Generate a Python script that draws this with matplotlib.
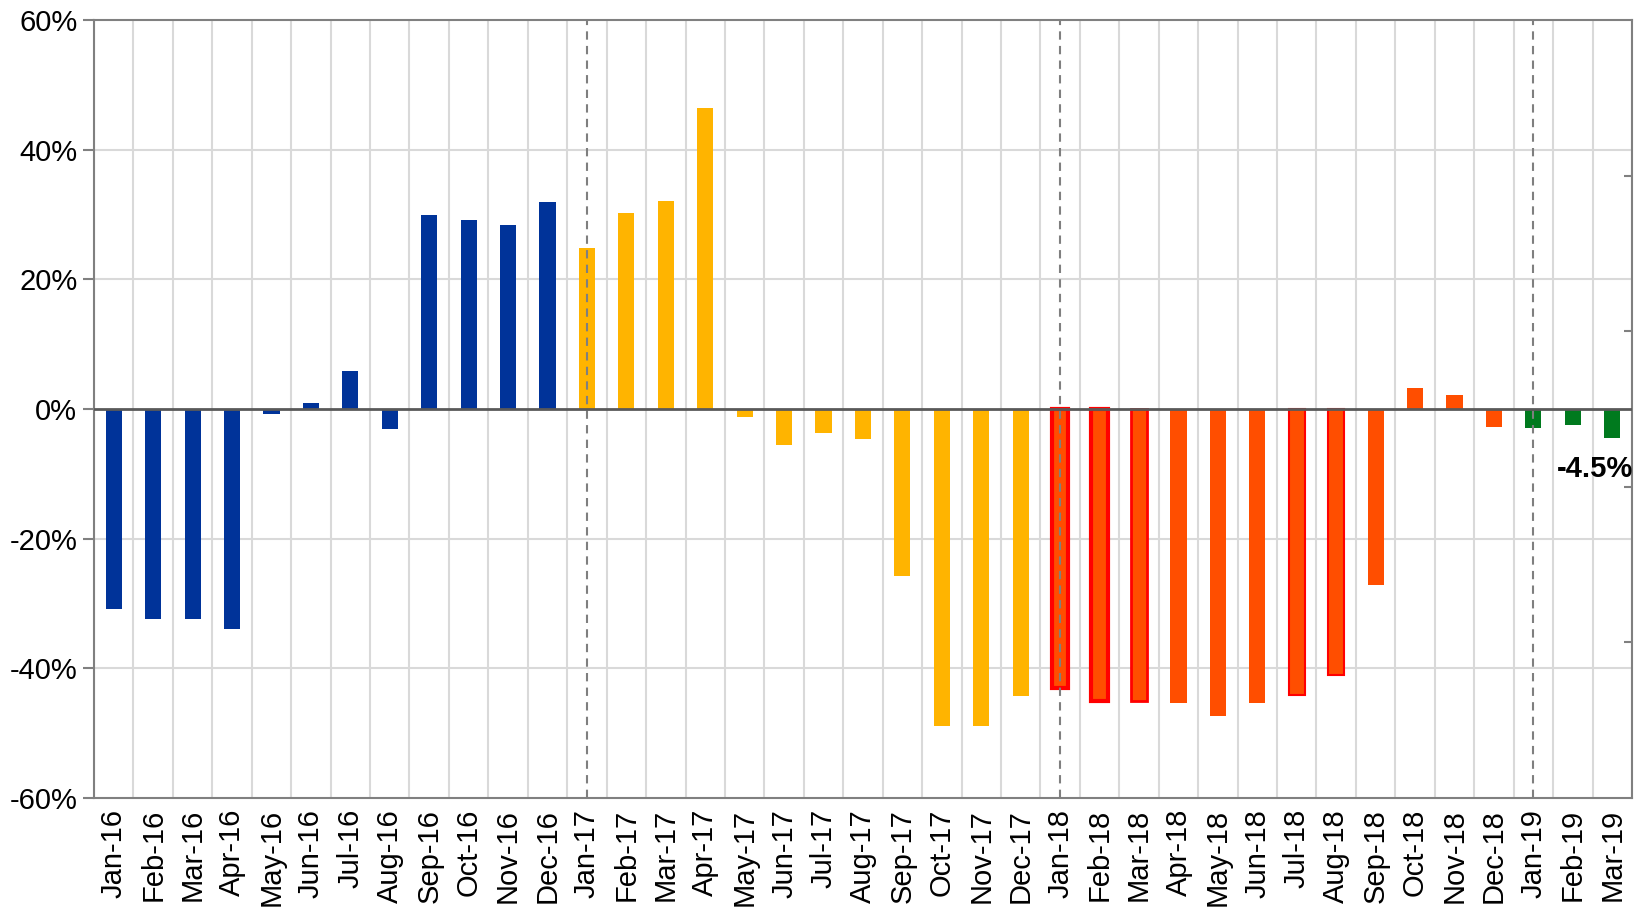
import numpy as np
import matplotlib.pyplot as plt
from matplotlib.ticker import FixedLocator, FuncFormatter

plt.rcParams['font.family'] = ['Liberation Sans', 'DejaVu Sans']

# 月份标签
months = ['Jan', 'Feb', 'Mar', 'Apr', 'May', 'Jun', 'Jul', 'Aug', 'Sep', 'Oct', 'Nov', 'Dec']
labels = [f'{m}-{y}' for y in ['16', '17', '18'] for m in months] + ['Jan-19', 'Feb-19', 'Mar-19']

# 各月数值 (%)
values_2016 = [-30.8, -32.4, -32.4, -34.0, -0.8, 1.0, 5.8, -3.1, 30.0, 29.2, 28.4, 31.9]
values_2017 = [24.8, 30.2, 32.1, 46.5, -1.3, -5.6, -3.7, -4.7, -25.8, -48.9, -48.9, -44.3]
values_2018 = [-43.0, -45.1, -45.1, -45.4, -47.4, -45.4, -44.1, -41.1, -27.2, 3.3, 2.2, -2.7]
values_2019 = [-3.0, -2.5, -4.5]

# 带红色边框的月份及边框宽度
edge_months = {'Jan-18': 3.0, 'Feb-18': 3.0, 'Mar-18': 2.0, 'Jul-18': 1.5, 'Aug-18': 1.5}
year_marks = ['Jan-17', 'Jan-18', 'Jan-19']

colors_year = {'16': '#003399', '17': '#FFB400', '18': '#FF4E00', '19': '#007A1E'}

values = values_2016 + values_2017 + values_2018 + values_2019
x = np.arange(len(labels))
bar_colors = [colors_year[l[-2:]] for l in labels]

fig = plt.figure(figsize=(16.38, 9.19), dpi=100)
ax = fig.add_axes([0.0574, 0.1317, 0.9389, 0.8465])

# 网格线
for xb in np.arange(len(labels) + 1) - 0.5:
    ax.axvline(xb, color='#D9D9D9', lw=1.5, zorder=0)
for yv in [-40, -20, 20, 40]:
    ax.axhline(yv, color='#D9D9D9', lw=1.5, zorder=0)

# 柱子
for xi, v, c, l in zip(x, values, bar_colors, labels):
    if l in edge_months:
        ax.bar(xi, v, width=0.41, color=c, edgecolor='#FF0000',
               linewidth=edge_months[l], zorder=2)
    else:
        ax.bar(xi, v, width=0.41, color=c, linewidth=0, zorder=2)

# 年份分隔虚线
for m in year_marks:
    ax.axvline(labels.index(m), color='#7F7F7F', lw=1.5, ls=(0, (4, 3)), zorder=3)

ax.axhline(0, color='#595959', lw=2, zorder=4)

ax.set_xlim(-0.5, len(labels) - 0.5)
ax.set_ylim(-60, 60)
ax.set_xticks(x)
ax.set_xticklabels(labels, rotation=90, fontsize=21)
ax.tick_params(axis='x', length=0, pad=8)
ax.set_yticks(np.arange(-60, 61, 20))
ax.yaxis.set_major_formatter(FuncFormatter(lambda v, p: f'{v:.0f}%'))
ax.tick_params(axis='y', labelsize=21, length=8, width=1.5, color='#808080', pad=4)

for s in ax.spines.values():
    s.set_color('#808080')
    s.set_linewidth(1.5)

# 右侧副轴刻度 (无标签)
ax2 = ax.twinx()
ax2.set_ylim(0, 5)
ax2.yaxis.set_major_locator(FixedLocator([1, 2, 3, 4]))
ax2.tick_params(axis='y', direction='in', length=6, width=1.5, color='#808080', labelright=False)
for s in ax2.spines.values():
    s.set_visible(False)

# 最后一个值标注
last = values[-1]
ax.text(len(labels) - 0.47, last - 4.8, f'{last:.1f}%', ha='right', va='center',
        fontsize=21, fontweight='bold', zorder=5)

fig.savefig('out.png', dpi=100)
